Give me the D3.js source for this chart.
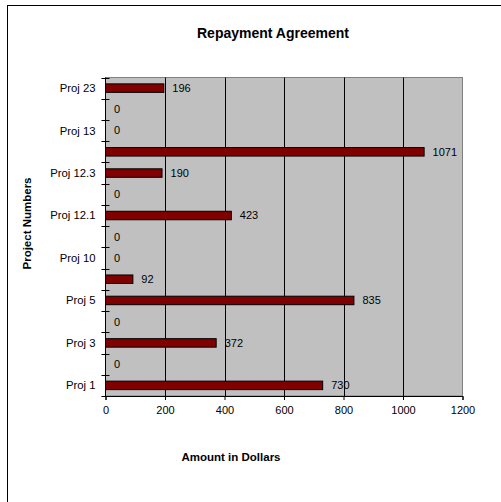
<!DOCTYPE html>
<html><head><meta charset="utf-8">
<script src="https://cdn.jsdelivr.net/npm/d3@7"></script>
<style>body{margin:0;background:#fff}svg{display:block}text{font-family:"Liberation Sans",Arial,sans-serif}</style>
</head><body>
<script>
// categories bottom-to-top; only every other one carries a visible label
const categoryLabels = ["Proj 1","","Proj 3","","Proj 5","","Proj 10","","Proj 12.1","","Proj 12.3","","Proj 13","","Proj 23"];
const values = [730,0,372,0,835,92,0,0,423,0,190,1071,0,0,196];
const xTicks = [0,200,400,600,800,1000,1200];
const title = "Repayment Agreement";
const xTitle = "Amount in Dollars";
const yTitle = "Project Numbers";

const W=501,H=502;
const svg=d3.select("body").append("svg").attr("width",W).attr("height",H);
svg.append("rect").attr("x",7.5).attr("y",5.5).attr("width",W).attr("height",H).attr("fill","#fff").attr("stroke","#000").attr("stroke-width",1);

const L=105.5,R=462.5,T=77.5,B=396;
const x=d3.scaleLinear().domain([0,1200]).range([L,R]);
const idx=d3.range(values.length);
const y=d3.scaleBand().domain(idx).range([B,T]).paddingInner(0.6).paddingOuter(0.3);
const band=(B-T)/values.length;

svg.append("rect").attr("x",L).attr("y",T).attr("width",R-L).attr("height",B-T).attr("fill","#c0c0c0").attr("stroke","#808080").attr("stroke-width",1);

// gridlines
svg.append("g").selectAll("line").data(xTicks.slice(1,-1)).join("line")
 .attr("x1",d=>Math.round(x(d))+0.5).attr("x2",d=>Math.round(x(d))+0.5).attr("y1",T).attr("y2",B).attr("stroke","#000");

// bars
svg.append("g").selectAll("rect").data(idx.filter(i=>values[i]>0)).join("rect")
 .attr("x",x(0)).attr("y",i=>y(i)).attr("width",i=>x(values[i])-x(0)).attr("height",y.bandwidth())
 .attr("fill","#800000").attr("stroke","#000").attr("stroke-width",1);

// value labels
svg.append("g").selectAll("text").data(idx).join("text")
 .attr("x",i=>x(values[i])+8.5).attr("y",i=>y(i)+y.bandwidth()/2).attr("dy","0.35em")
 .attr("font-size",11).attr("fill","#000").text(i=>values[i]);

// x axis
const xa=svg.append("g").attr("transform",`translate(0,${B})`)
 .call(d3.axisBottom(x).tickValues(xTicks).tickSize(4).tickPadding(6).tickFormat(d3.format("d")));
xa.select(".domain").attr("stroke","#000");
xa.selectAll("text").attr("font-size",11).attr("fill","#000").attr("font-family","Liberation Sans, Arial, sans-serif");

// y axis: ticks at category boundaries, crossing
const yb=d3.range(values.length+1).map(k=>B-k*band);
const ya=svg.append("g");
ya.append("line").attr("x1",L).attr("x2",L).attr("y1",T).attr("y2",B).attr("stroke","#000");
ya.selectAll("line.t").data(yb).join("line").attr("class","t")
 .attr("x1",L-4).attr("x2",L+4).attr("y1",d=>Math.round(d)+0.5).attr("y2",d=>Math.round(d)+0.5).attr("stroke","#000");
ya.selectAll("text").data(idx.filter(i=>categoryLabels[i])).join("text")
 .attr("x",L-10).attr("y",i=>y(i)+y.bandwidth()/2).attr("dy","0.35em").attr("text-anchor","end")
 .attr("font-size",11.3).attr("fill","#000").text(i=>categoryLabels[i]);

svg.append("text").attr("x",273).attr("y",33).attr("dy","0.35em").attr("text-anchor","middle")
 .attr("font-size",14).attr("font-weight","bold").text(title);
svg.append("text").attr("x",231).attr("y",457).attr("dy","0.35em").attr("text-anchor","middle")
 .attr("font-size",11.5).attr("font-weight","bold").text(xTitle);
svg.append("text").attr("transform","translate(27,223.5) rotate(-90)").attr("dy","0.35em").attr("text-anchor","middle")
 .attr("font-size",11.5).attr("font-weight","bold").text(yTitle);
</script>
</body></html>
